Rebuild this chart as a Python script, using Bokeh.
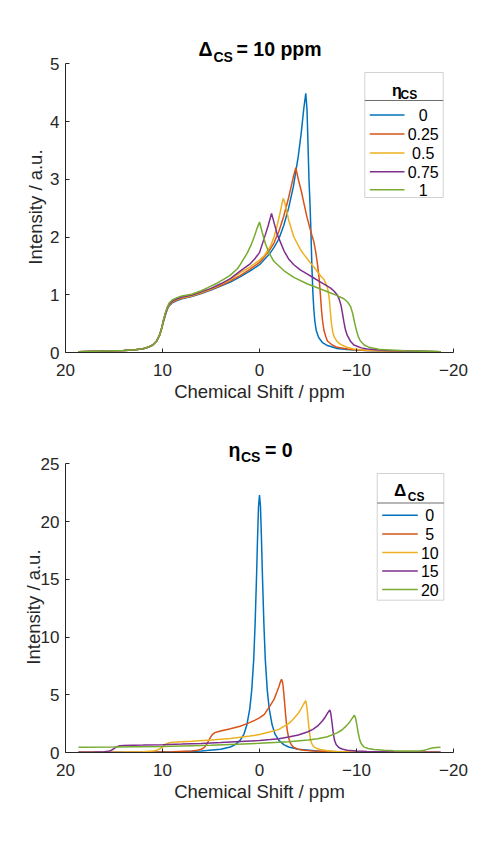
from bokeh.plotting import figure
from bokeh.models import Range1d, Label, BoxAnnotation, FixedTicker
from bokeh.layouts import column
from bokeh.embed import file_html
from bokeh.resources import INLINE

# ---------------- data: top panel (Delta_CS = 10 ppm), eta_CS series ----------------
eta_labels = ["0", "0.25", "0.5", "0.75", "1"]

top_x_eta0 = [18.66, 16, 14, 13, 12, 11.5, 11, 10.6, 10.3, 10.1, 9.9, 9.7, 9.5, 9.3, 9.0, 8.5, 8.0,
              7, 6, 5, 4, 3, 2, 1, 0,
              -1, -1.5, -2, -2.5, -3, -3.5, -4, -4.3, -4.55, -4.77,
              -4.9, -5.0, -5.1, -5.2, -5.3, -5.4, -5.5, -5.6, -5.7, -5.85, -6.1, -6.5, -7, -8, -9, -11, -14, -18.66]
top_y_eta0 = [0.015, 0.025, 0.035, 0.045, 0.065, 0.09, 0.13, 0.2, 0.3, 0.41, 0.53, 0.65, 0.75, 0.81, 0.86, 0.9, 0.93,
              0.97, 1.02, 1.08, 1.15, 1.22, 1.31, 1.41, 1.52,
              1.7, 1.82, 1.97, 2.2, 2.5, 2.88, 3.4, 3.8, 4.2, 4.49,
              4.2, 3.6, 3.0, 2.6, 2.1, 1.5, 1.05, 0.75, 0.55, 0.38, 0.26, 0.17, 0.12, 0.07, 0.05, 0.035, 0.025, 0.015]

top_x_eta025 = [18.66, 16, 14, 13, 12, 11.5, 11, 10.6, 10.3, 10.1, 9.9, 9.7, 9.5, 9.3, 9.0, 8.5, 8.0,
                7, 6, 5, 4, 3, 2, 1, 0,
                -1, -1.5, -2, -2.5, -3, -3.3, -3.5, -3.74,
                -4.0, -4.33, -4.6, -4.9, -5.2, -5.4, -5.6, -5.8, -6.0, -6.15, -6.3, -6.4, -6.5, -6.65, -6.85,
                -7.0, -7.5, -8, -9.4, -11, -14, -18.66]
top_y_eta025 = [0.015, 0.025, 0.035, 0.045, 0.065, 0.09, 0.13, 0.2, 0.3, 0.41, 0.54, 0.66, 0.76, 0.82, 0.87, 0.91, 0.94,
                0.975, 1.03, 1.09, 1.16, 1.24, 1.33, 1.44, 1.56,
                1.76, 1.9, 2.1, 2.36, 2.68, 2.9, 3.05, 3.2,
                3.0, 2.78, 2.57, 2.34, 2.15, 2.03, 1.92, 1.74, 1.5, 1.28, 0.95, 0.72, 0.55, 0.38, 0.27,
                0.2, 0.13, 0.09, 0.05, 0.035, 0.025, 0.015]

top_x_eta05 = [18.66, 16, 14, 13, 12, 11.5, 11, 10.6, 10.3, 10.1, 9.9, 9.7, 9.5, 9.3, 9.0, 8.5, 8.0,
               7, 6, 5, 4, 3, 2, 1, 0,
               -0.5, -1.13, -1.5, -1.82, -2.1, -2.3, -2.44,
               -2.6, -2.8, -3.0, -3.54, -4.23, -4.57, -5.26, -5.6, -6.29, -6.63, -6.98, -7.12, -7.22, -7.32,
               -7.42, -7.55, -7.7, -8.0, -8.35, -9.0, -9.7, -11, -14, -18.66]
top_y_eta05 = [0.015, 0.025, 0.035, 0.045, 0.065, 0.09, 0.13, 0.2, 0.3, 0.41, 0.55, 0.67, 0.77, 0.83, 0.88, 0.92, 0.95,
               0.98, 1.04, 1.1, 1.18, 1.26, 1.38, 1.48, 1.6,
               1.68, 1.84, 2.0, 2.2, 2.4, 2.56, 2.67,
               2.6, 2.45, 2.3, 2.0, 1.78, 1.7, 1.55, 1.48, 1.33, 1.27, 1.14, 1.02, 0.88, 0.68,
               0.5, 0.36, 0.27, 0.19, 0.14, 0.09, 0.06, 0.04, 0.025, 0.015]

top_x_eta075 = [18.66, 16, 14, 13, 12, 11.5, 11, 10.6, 10.3, 10.1, 9.9, 9.7, 9.5, 9.3, 9.0, 8.5, 8.0,
                7, 6, 5, 4, 3, 2, 1, 0.5, 0,
                -0.62, -0.9, -1.24,
                -1.5, -1.82, -2.5, -3.0, -3.54, -4.2, -4.9, -5.6, -6.3, -7.3, -7.7, -8.0, -8.2, -8.4, -8.55,
                -8.7, -8.85, -9.04, -9.4, -9.73, -10.5, -11.1, -13, -18.66]
top_y_eta075 = [0.015, 0.025, 0.035, 0.045, 0.065, 0.09, 0.13, 0.2, 0.3, 0.41, 0.56, 0.68, 0.78, 0.84, 0.89, 0.93, 0.96,
                0.99, 1.05, 1.11, 1.19, 1.28, 1.41, 1.53, 1.62, 1.73,
                2.05, 2.2, 2.41,
                2.25, 2.05, 1.77, 1.62, 1.52, 1.43, 1.36, 1.29, 1.22, 1.12, 1.06, 1.0, 0.93, 0.82, 0.68,
                0.53, 0.4, 0.3, 0.19, 0.13, 0.08, 0.06, 0.035, 0.015]

top_x_eta1 = [18.66, 16, 14, 13, 12, 11.5, 11, 10.6, 10.3, 10.1, 9.9, 9.7, 9.5, 9.3, 9.0, 8.5, 8.0,
              7, 6, 5.38, 4.5, 3.66, 3, 2.28, 1.96, 1.27, 0.9, 0.55, 0.25, 0,
              -0.3, -0.62, -1.0, -1.48, -2.5, -3.54, -4.9, -6.3, -7.66, -8.7, -9.1, -9.38, -9.6, -9.8,
              -10.0, -10.2, -10.4, -10.8, -11.3, -12.5, -15, -18.66]
top_y_eta1 = [0.015, 0.025, 0.035, 0.045, 0.065, 0.09, 0.13, 0.2, 0.3, 0.41, 0.57, 0.69, 0.79, 0.86, 0.91, 0.95, 0.98,
              1.01, 1.07, 1.12, 1.19, 1.27, 1.34, 1.45, 1.53, 1.72, 1.85, 2.0, 2.15, 2.26,
              2.07, 1.88, 1.72, 1.58, 1.42, 1.3, 1.19, 1.1, 1.01, 0.93, 0.87, 0.8, 0.68, 0.52,
              0.38, 0.27, 0.2, 0.13, 0.09, 0.05, 0.03, 0.015]

# ---------------- data: bottom panel (eta_CS = 0), Delta_CS series ----------------
delta_labels = ["0", "5", "10", "15", "20"]

bot_x_d0 = [18.66, 12, 8, 6, 4, 3, 2.5, 2, 1.6, 1.3, 1.0, 0.8, 0.6, 0.45, 0.3, 0.2, 0.1, 0,
            -0.1, -0.2, -0.3, -0.45, -0.6, -0.8, -1.0, -1.3, -1.6, -2, -2.5, -3, -4, -6, -8, -12, -18.66]
bot_y_d0 = [0.02, 0.04, 0.07, 0.12, 0.28, 0.48, 0.68, 1.05, 1.6, 2.4, 3.8, 5.4, 8.0, 11.2, 15.4, 18.6, 21.3, 22.3,
            21.3, 18.6, 15.4, 11.2, 8.0, 5.4, 3.8, 2.4, 1.6, 1.05, 0.68, 0.48, 0.28, 0.12, 0.07, 0.04, 0.02]

bot_x_d5 = [18.66, 12, 9, 7, 6.4, 6.0, 5.7, 5.45, 5.25, 5.1, 4.95, 4.8, 4.6, 4.3, 4.0, 3, 2, 1.27, 0.5, 0,
            -0.5, -1.13, -1.5, -1.82, -2.0, -2.15, -2.27, -2.4, -2.51, -2.6, -2.68, -2.77, -2.86, -3.0, -3.13,
            -3.3, -3.54, -4.0, -4.57, -5.5, -6.98, -10, -14, -18.66]
bot_y_d5 = [0.02, 0.04, 0.07, 0.13, 0.2, 0.28, 0.43, 0.7, 1.0, 1.25, 1.45, 1.6, 1.72, 1.8, 1.87, 2.05, 2.28, 2.5, 2.78, 3.0,
            3.3, 4.1, 4.6, 5.3, 5.7, 6.1, 6.34, 6.0, 5.1, 4.2, 3.37, 2.6, 1.93, 1.3, 0.92,
            0.65, 0.43, 0.28, 0.2, 0.13, 0.09, 0.05, 0.03, 0.02]

bot_x_d10 = [18.66, 14, 12, 11, 10.6, 10.3, 10.1, 9.9, 9.7, 9.5, 9.2, 8.5, 7, 5, 3, 1, 0,
             -1.13, -2, -3, -3.5, -4, -4.3, -4.55, -4.77, -4.92, -5.09, -5.26, -5.43, -5.6, -5.9, -6.29,
             -7, -8, -10, -14, -18.66]
bot_y_d10 = [0.02, 0.04, 0.07, 0.12, 0.2, 0.3, 0.42, 0.55, 0.68, 0.78, 0.86, 0.92, 0.97, 1.08, 1.22, 1.42, 1.55,
             1.79, 2.0, 2.5, 2.9, 3.4, 3.8, 4.2, 4.5, 3.66, 2.22, 1.07, 0.7, 0.49, 0.35, 0.26,
             0.16, 0.09, 0.05, 0.03, 0.02]

bot_x_d15 = [18.66, 17, 16, 15.6, 15.3, 15.1, 14.9, 14.7, 14.4, 14, 12, 10, 8, 6, 4, 2, 0,
             -1.13, -2, -3, -4, -5, -5.5, -6, -6.5, -6.8, -7.05, -7.25, -7.35, -7.49, -7.6, -7.73, -7.9,
             -8.18, -8.5, -9.04, -10, -11.1, -14, -18.66]
bot_y_d15 = [0.03, 0.04, 0.06, 0.1, 0.18, 0.28, 0.4, 0.5, 0.58, 0.61, 0.64, 0.68, 0.73, 0.79, 0.87, 0.96, 1.04,
             1.12, 1.2, 1.34, 1.52, 1.8, 2.0, 2.3, 2.75, 3.1, 3.45, 3.69, 3.4, 2.5, 1.7, 1.07, 0.7,
             0.43, 0.3, 0.2, 0.13, 0.09, 0.05, 0.03]

bot_x_d20 = [18.66, 15, 10, 5, 0, -3, -5, -6, -7, -8, -8.5, -9, -9.3, -9.55, -9.79, -9.93, -10.07, -10.2,
             -10.34, -10.5, -10.75, -11.2, -11.8, -12.8, -13.85, -15, -16, -16.6, -17.0, -17.3, -17.6, -17.8,
             -18.2, -18.66]
bot_y_d20 = [0.45, 0.47, 0.52, 0.62, 0.8, 0.93, 1.08, 1.2, 1.37, 1.7, 1.95, 2.35, 2.65, 2.95, 3.23, 2.9, 2.22, 1.6,
             1.07, 0.75, 0.49, 0.35, 0.26, 0.19, 0.15, 0.13, 0.13, 0.15, 0.2, 0.27, 0.35, 0.4,
             0.44, 0.46]

x_ticks = [20, 10, 0, -10, -20]
top_y_ticks = [0, 1, 2, 3, 4, 5]
bot_y_ticks = [0, 5, 10, 15, 20, 25]
top_y_max = 5
bot_y_max = 25

colors = ["#0072BD", "#D95319", "#EDB120", "#7E2F8E", "#77AC30"]

FONT = "Liberation Sans"
AX = "#262626"

FRAME_H = 332          # frame includes the title band above the axes
AXES_H = 288.7         # pixel height of the data axes (0 .. ymax)
# non-breaking padding keeps the rotated y label centred on the axes, not on the taller frame
YLABEL = "Intensity / a.u." + "\u00a0" * 8


def make_fig(ymax, yticks, top_border, bottom_border, ylabel_standoff):
    ext = ymax * FRAME_H / AXES_H
    p = figure(frame_width=388, frame_height=FRAME_H,
               x_range=Range1d(20, -20), y_range=Range1d(0, ext),
               output_backend="svg", toolbar_location=None,
               min_border_left=65, min_border_right=40,
               min_border_top=top_border, min_border_bottom=bottom_border)
    p.outline_line_color = None
    p.xgrid.grid_line_color = None
    p.ygrid.grid_line_color = None
    p.background_fill_color = "white"
    p.border_fill_color = "white"
    p.xaxis.ticker = FixedTicker(ticks=x_ticks)
    p.yaxis.ticker = FixedTicker(ticks=yticks)
    p.yaxis.bounds = (0, ymax)
    for ax in (p.xaxis[0], p.yaxis[0]):
        ax.axis_line_color = AX
        ax.axis_line_width = 1
        ax.major_tick_line_color = AX
        ax.major_tick_in = 4
        ax.major_tick_out = 0
        ax.minor_tick_line_color = None
        ax.major_label_text_font = FONT
        ax.major_label_text_font_size = "17px"
        ax.major_label_text_color = AX
        ax.axis_label_text_font = FONT
        ax.axis_label_text_font_size = "18.5px"
        ax.axis_label_text_font_style = "normal"
        ax.axis_label_text_color = AX
    p.xaxis.major_label_standoff = 11
    p.yaxis.major_label_standoff = 6
    p.xaxis.axis_label = "Chemical Shift / ppm"
    p.xaxis.axis_label_standoff = 2
    p.yaxis.axis_label = YLABEL
    p.yaxis.axis_label_standoff = ylabel_standoff
    return p


def lbl(p, x, y, text, size, style="bold", align="left", baseline="alphabetic", color="#000000"):
    p.add_layout(Label(x=x, y=y, x_units="screen", y_units="screen", text=text,
                       text_font=FONT, text_font_size=size, text_font_style=style,
                       text_align=align, text_baseline=baseline, text_color=color,
                       level="overlay"))


def box(p, left, right, bottom, top, fill, line=None):
    p.add_layout(BoxAnnotation(left=left, right=right, bottom=bottom, top=top,
                               left_units="screen", right_units="screen",
                               bottom_units="screen", top_units="screen",
                               fill_color=fill, fill_alpha=1.0,
                               line_color=line, line_width=1, level="overlay"))


def legend(p, left, right, bottom, top, sep, line_l, line_r, rows, label_x, labels):
    box(p, left, right, bottom, top, "white", "#6e6e6e")
    box(p, left, right, sep - 0.5, sep + 0.5, "#6e6e6e")
    for yy, c in zip(rows, colors):
        box(p, line_l, line_r, yy - 0.75, yy + 0.75, c)
    for yy, t in zip(rows, labels):
        lbl(p, label_x, yy, t, "16px", style="normal", align="center", baseline="middle")


# ---------------- top panel ----------------
p1 = make_fig(top_y_max, top_y_ticks, 20, 56, 1)
top_series = [(top_x_eta0, top_y_eta0), (top_x_eta025, top_y_eta025), (top_x_eta05, top_y_eta05),
              (top_x_eta075, top_y_eta075), (top_x_eta1, top_y_eta1)]
for (xs, ys), c in zip(top_series, colors):
    p1.line(xs, ys, line_color=c, line_width=1.5)

legend(p1, 299.3, 377.7, 155, 280, 252, 304.3, 339, [237.4, 218.4, 199.4, 180.7, 162.7], 357.7, eta_labels)
lbl(p1, 326.5, 262, "\u03b7", "16px")
lbl(p1, 335, 258, "CS", "12px")

lbl(p1, 133, 303.7, "\u0394", "19.5px")
lbl(p1, 148, 296, "CS", "14px")
lbl(p1, 171, 303.7, "= 10 ppm", "19.5px")

# ---------------- bottom panel ----------------
p2 = make_fig(bot_y_max, bot_y_ticks, 12, 60, -6)
bot_series = [(bot_x_d0, bot_y_d0), (bot_x_d5, bot_y_d5), (bot_x_d10, bot_y_d10),
              (bot_x_d15, bot_y_d15), (bot_x_d20, bot_y_d20)]
for (xs, ys), c in zip(bot_series, colors):
    p2.line(xs, ys, line_color=c, line_width=1.5)

legend(p2, 311.7, 378.3, 152.3, 279, 249.6, 316.7, 352.3, [237.3, 218.6, 200, 181.6, 163], 364.3, delta_labels)
lbl(p2, 328.5, 262.3, "\u0394", "17px")
lbl(p2, 342.3, 255.2, "CS", "12px")

lbl(p2, 163, 303, "\u03b7", "19.5px")
lbl(p2, 175.5, 295.6, "CS", "14px")
lbl(p2, 199.5, 302.3, "= 0", "19.5px")

layout = column(p1, p2, spacing=0)
open("out.html", "w").write(file_html(layout, INLINE))
